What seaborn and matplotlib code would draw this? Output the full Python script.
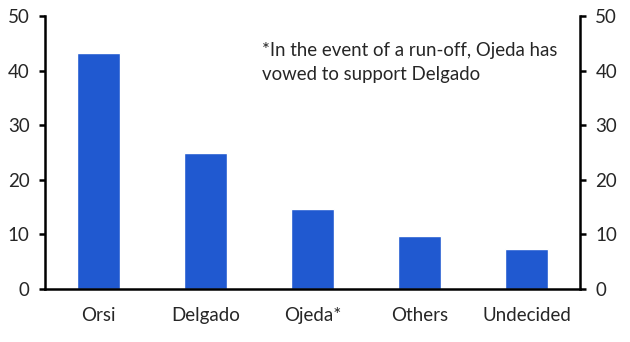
import matplotlib
matplotlib.use("Agg")
import matplotlib.pyplot as plt
import seaborn as sns
import pandas as pd
import numpy as np

categories = ["Orsi", "Delgado", "Ojeda*", "Others", "Undecided"]
values = [43.3, 25.0, 14.6, 9.7, 7.3]
yticks = [0, 10, 20, 30, 40, 50]
note = "*In the event of a run-off, Ojeda has\nvowed to support Delgado"

sns.set_style("white")
plt.rcParams['font.family'] = ['Lato', 'DejaVu Sans']

df = pd.DataFrame({"cat": categories, "val": values})
fig = plt.figure(figsize=(6.3, 3.42), dpi=100)
ax = fig.add_axes([45/630, 1-289/342, 535/630, 273/342])
sns.barplot(data=df, x="cat", y="val", color="#2059d0", saturation=1, width=0.4, ax=ax)

ax.set_xlim(-0.5, len(categories)-0.5)
ax.set_ylim(0, 50)
ax.set_yticks(yticks)
ax.set_xlabel("")
ax.set_ylabel("")
for s in ["left", "right", "bottom"]:
    ax.spines[s].set_visible(True)
    ax.spines[s].set_linewidth(1.8)
    ax.spines[s].set_color("black")
ax.spines["top"].set_visible(False)

ax.tick_params(axis="y", which="major", direction="out", length=4, width=1.8, color="black",
               left=True, right=True, labelleft=True, labelright=True, labelsize=13.5, pad=7)
ax.tick_params(axis="x", which="major", length=0, labelsize=13.5, pad=13)
ax.set_xticks(np.arange(-0.5, len(categories), 1.0), minor=True)
ax.tick_params(axis="x", which="minor", direction="out", length=5, width=1.8, color="black")

ax.text(0.405, 0.905, note, transform=ax.transAxes, fontsize=13.4, va="top", ha="left", linespacing=1.5)

fig.savefig("out.png", dpi=100)
